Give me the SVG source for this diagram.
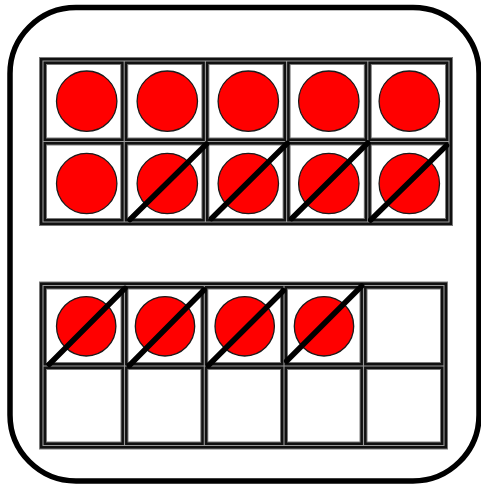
<svg xmlns="http://www.w3.org/2000/svg" width="481" height="484" viewBox="0 0 481 484">
<style>
.card{fill:#fff;stroke:#000;stroke-width:5.5}
.f1{fill:none;stroke:#7a7a7a;stroke-width:8}
.f2{fill:none;stroke:#111;stroke-width:6}
.f3{fill:none;stroke:#9a9a9a;stroke-width:1.1}
.cell{fill:#fff}
.dot{fill:#ff0000;stroke:#1a1a1a;stroke-width:1.3}
.slash{stroke:#000;stroke-width:5.5;stroke-linecap:round}
</style>
<defs>
<path id="gridTop" d="M43 61H449V222H43Z M124.2 61V222 M205.4 61V222 M286.6 61V222 M367.8 61V222 M43 141.5H449"/>
<path id="gridBot" d="M43 285.5H444V445.5H43Z M124.5 285.5V445.5 M204.3 285.5V445.5 M284 285.5V445.5 M363.5 285.5V445.5 M43 366H444"/>
</defs>
<g id="card">
<rect class="card" x="10" y="7.5" width="469" height="473.5" rx="66" ry="66"/>
</g>
<g id="frame-top">
<rect class="cell" x="43" y="61" width="406" height="161"/>
<use href="#gridTop" class="f1"/>
<use href="#gridTop" class="f2"/>
<use href="#gridTop" class="f3"/>
</g>
<g id="frame-bottom">
<rect class="cell" x="43" y="285.5" width="401" height="160"/>
<use href="#gridBot" class="f1"/>
<use href="#gridBot" class="f2"/>
<use href="#gridBot" class="f3"/>
</g>
<g id="counters-top">
<circle class="dot" cx="86.7" cy="101.2" r="30.2"/>
<circle class="dot" cx="167.3" cy="101.2" r="30.2"/>
<circle class="dot" cx="248.3" cy="101.2" r="30.2"/>
<circle class="dot" cx="328.8" cy="101.2" r="30.2"/>
<circle class="dot" cx="409.3" cy="101.2" r="30.2"/>
<circle class="dot" cx="86.7" cy="183.5" r="30.2"/>
<circle class="dot" cx="167.3" cy="183.5" r="30.2"/>
<circle class="dot" cx="248.3" cy="183.5" r="30.2"/>
<circle class="dot" cx="328.8" cy="183.5" r="30.2"/>
<circle class="dot" cx="409.3" cy="183.5" r="30.2"/>
</g>
<g id="counters-bottom">
<circle class="dot" cx="86.2" cy="326.3" r="29.7"/>
<circle class="dot" cx="165" cy="326.3" r="29.7"/>
<circle class="dot" cx="244.7" cy="326.3" r="29.7"/>
<circle class="dot" cx="324" cy="326.3" r="29.7"/>
</g>
<g id="slashes">
<line class="slash" x1="130" y1="219.5" x2="206.5" y2="144"/>
<line class="slash" x1="211.5" y1="218.5" x2="287.3" y2="143.3"/>
<line class="slash" x1="291.7" y1="218.5" x2="367.7" y2="143"/>
<line class="slash" x1="370.7" y1="220" x2="446.5" y2="145.5"/>
<line class="slash" x1="49.3" y1="364.3" x2="125" y2="288.3"/>
<line class="slash" x1="129.3" y1="365.5" x2="204" y2="290"/>
<line class="slash" x1="208.3" y1="365.5" x2="283.3" y2="290.7"/>
<line class="slash" x1="286.7" y1="361" x2="361.7" y2="286"/>
</g>
</svg>
